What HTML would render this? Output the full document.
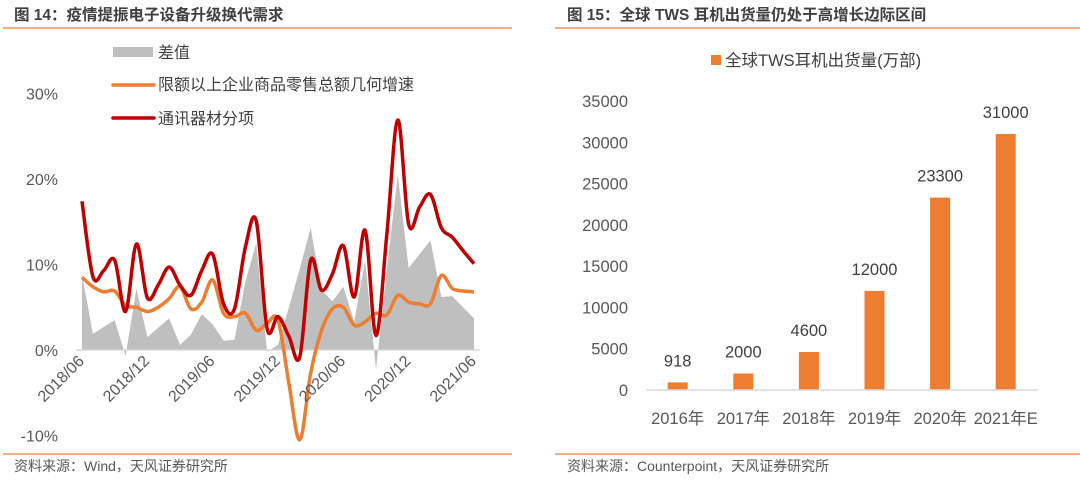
<!DOCTYPE html>
<html><head><meta charset="utf-8"><style>
html,body{margin:0;padding:0;background:#fff;}
body{width:1080px;height:479px;overflow:hidden;font-family:"Liberation Sans","Noto Sans CJK SC",sans-serif;}
svg text{font-family:"Liberation Sans","Noto Sans CJK SC",sans-serif;}
</style></head><body>
<svg id="root" width="1080" height="479" viewBox="0 0 1080 479" xmlns="http://www.w3.org/2000/svg">
<text x="14" y="20" font-size="15.5" font-weight="bold" fill="#404040">图 14：疫情提振电子设备升级换代需求</text>
<line x1="3" y1="28" x2="512" y2="28" stroke="#f4b183" stroke-width="2"/>
<text x="567" y="20" font-size="15.5" font-weight="bold" fill="#404040">图 15：全球 TWS 耳机出货量仍处于高增长边际区间</text>
<line x1="555" y1="28" x2="1080" y2="28" stroke="#f4b183" stroke-width="2"/>
<line x1="3" y1="454" x2="512" y2="454" stroke="#f4b183" stroke-width="2"/>
<line x1="555" y1="454" x2="1080" y2="454" stroke="#f4b183" stroke-width="2"/>
<text x="14" y="471" font-size="14" fill="#595959">资料来源：Wind，天风证券研究所</text>
<text x="567" y="471" font-size="14" fill="#595959">资料来源：Counterpoint，天风证券研究所</text>
<g id="left"></g>
<g id="right"></g>
</svg>
<script>
const leftTicks = [-10, 0, 10, 20, 30];
const leftTickLabels = ["-10%", "0%", "10%", "20%", "30%"];
const xLabels = ["2018/06", "2018/12", "2019/06", "2019/12", "2020/06", "2020/12", "2021/06"];
const diffValues = [8.8,1.9,2.7,3.5,-0.7,7.2,1.5,2.6,3.7,0.6,1.8,4.2,3.0,1.1,1.2,8.0,12.5,-0.2,0.6,5.0,9.5,14.3,7.0,5.7,7.4,3.3,10.5,-2.3,9.5,20.5,9.6,11.2,12.8,6.2,6.3,5.0,3.7];
const retailValues = [8.5,7.4,6.8,6.9,5.2,5.0,4.5,5.0,6.0,7.4,4.8,5.6,8.2,4.3,3.9,4.3,2.3,3.1,3.5,-3.9,-10.5,-2.7,2.3,4.8,5.0,2.9,3.3,4.3,4.1,6.4,5.6,5.4,5.4,8.7,7.2,6.9,6.8];
const commValues = [17.4,8.6,9.3,10.5,4.5,12.4,6.1,7.6,9.7,7.6,6.4,9.3,11.2,5.4,4.8,12.0,15.1,2.5,3.9,1.6,-0.8,10.5,7.0,8.9,12.2,6.2,14.0,1.7,13.6,26.9,14.7,16.7,18.2,14.3,13.2,11.6,10.1];

const years = ["2016年","2017年","2018年","2019年","2020年","2021年E"];
const shipments = [918, 2000, 4600, 12000, 23300, 31000];
const rightTicks = [0,5000,10000,15000,20000,25000,30000,35000];

const NS="http://www.w3.org/2000/svg";
function mk(parent, tag, attrs){const e=document.createElementNS(NS,tag);for(const k in attrs)e.setAttribute(k,attrs[k]);parent.appendChild(e);return e;}

const L=document.getElementById('left');
const ly=v=>350-v*8.55;
const lx=i=>82+i*(474-82)/36;
leftTicks.forEach((t,i)=>{
  const tx=mk(L,'text',{x:58,y:ly(t)+6,'text-anchor':'end','font-size':16,fill:'#595959'});
  tx.textContent=leftTickLabels[i];
  
  
});
let d='M'+lx(0)+','+ly(0);
diffValues.forEach((v,i)=>{d+=' L'+lx(i)+','+ly(v);});
d+=' L'+lx(diffValues.length-1)+','+ly(0)+' Z';
const area=mk(L,'path',{d:d,fill:'#bfbfbf'});


const ax=mk(L,'line',{x1:76,y1:350,x2:480,y2:350,stroke:'#d9d9d9','stroke-width':1.5});


function smooth(pts){
  let s='M'+pts[0][0]+','+pts[0][1];
  for(let i=0;i<pts.length-1;i++){
    const p0=pts[i-1]||pts[i],p1=pts[i],p2=pts[i+1],p3=pts[i+2]||p2;
    const t=0.17;
    const c1=[p1[0]+(p2[0]-p0[0])*t,p1[1]+(p2[1]-p0[1])*t];
    const c2=[p2[0]-(p3[0]-p1[0])*t,p2[1]-(p3[1]-p1[1])*t];
    s+=' C'+c1[0]+','+c1[1]+' '+c2[0]+','+c2[1]+' '+p2[0]+','+p2[1];
  }
  return s;
}
function line(vals,color,name){
  const p=mk(L,'path',{d:smooth(vals.map((v,i)=>[lx(i),ly(v)])),fill:'none',stroke:color,'stroke-width':3.5,'stroke-linejoin':'round'});
  
  
}
line(retailValues,'#ed7d31','retail-growth-line');
line(commValues,'#c00000','comm-equipment-line');
xLabels.forEach((s,i)=>{
  const x=lx(i*6)+3, y=362;
  const t=mk(L,'text',{x:x,y:y,'text-anchor':'end','font-size':16,fill:'#595959',transform:'rotate(-45 '+x+' '+y+')'});
  t.textContent=s;
  
  
});
const lg1=mk(L,'rect',{x:113,y:47,width:40,height:10,fill:'#bfbfbf'});


const lg2=mk(L,'line',{x1:113,y1:85,x2:154,y2:85,stroke:'#ed7d31','stroke-width':3.5,'stroke-linecap':'round'});


const lg3=mk(L,'line',{x1:113,y1:118,x2:154,y2:118,stroke:'#c00000','stroke-width':3.5,'stroke-linecap':'round'});


[['差值',58,'legend-diff-label'],['限额以上企业商品零售总额几何增速',90,'legend-retail-label'],['通讯器材分项',124,'legend-comm-label']].forEach(a=>{
  const t=mk(L,'text',{x:158,y:a[1],'font-size':16,fill:'#404040'});
  t.textContent=a[0];
  
  
});

const R=document.getElementById('right');
const ry=v=>390-v*(289/35000);
const rx=i=>677.7+i*65.6;
rightTicks.forEach(t=>{
  const tx=mk(R,'text',{x:628,y:ry(t)+6,'text-anchor':'end','font-size':16.5,fill:'#595959'});
  tx.textContent=String(t);
  
  
});
shipments.forEach((v,i)=>{
  const b=mk(R,'rect',{x:rx(i)-10,y:ry(v),width:20,height:390-ry(v),fill:'#ed7d31'});
  
  
  const t=mk(R,'text',{x:rx(i),y:ry(v)-16,'text-anchor':'middle','font-size':16.5,fill:'#404040'});
  t.textContent=String(v);
  
  
  const xl=mk(R,'text',{x:rx(i),y:424,'text-anchor':'middle','font-size':16.5,fill:'#595959'});
  xl.textContent=years[i];
  
  
});
const rax=mk(R,'line',{x1:646,y1:390,x2:1038,y2:390,stroke:'#d9d9d9','stroke-width':1.5});


const rl=mk(R,'rect',{x:711,y:55,width:10,height:10,fill:'#ed7d31'});


const rlt=mk(R,'text',{x:725,y:66,'font-size':16.5,fill:'#404040'});
rlt.textContent='全球TWS耳机出货量(万部)';


</script>
</body></html>
